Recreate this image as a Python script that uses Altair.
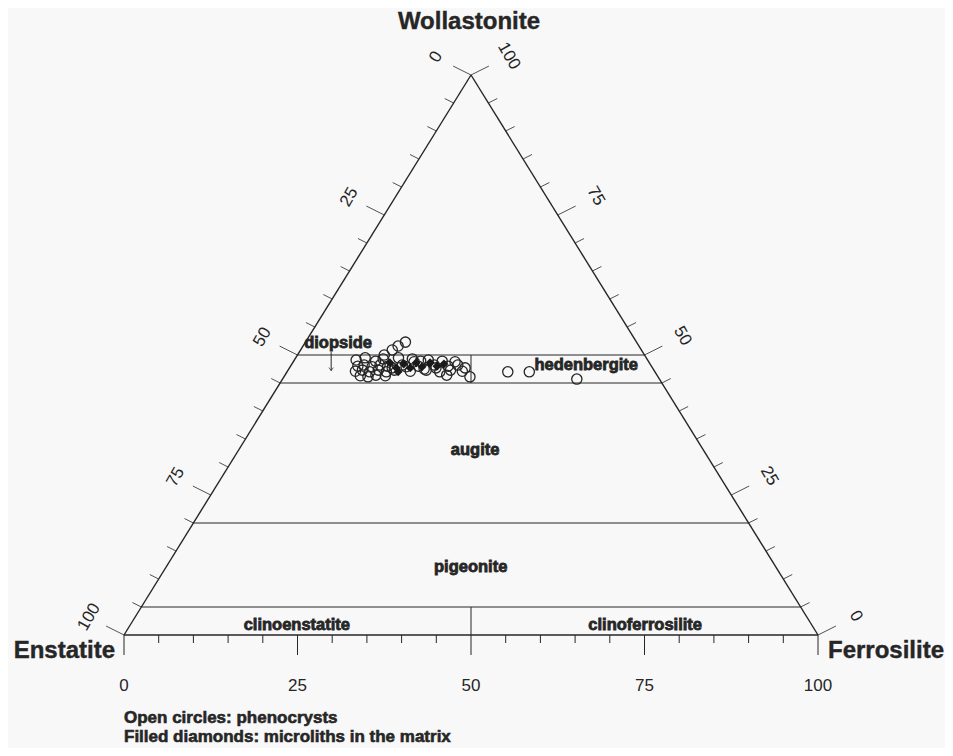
import altair as alt
import pandas as pd

# ---------------- data (mol %) ----------------
# Open circles: phenocrysts  (Wo, Fs; En = 100 - Wo - Fs)
PHENO_WO = [52.3, 51.6, 50.9, 50.0,
            49.1, 49.5, 48.9, 49.3, 49.5, 49.3, 48.9, 49.1, 48.9, 48.8,
            48.0, 48.2, 47.9, 48.2, 48.0, 48.2, 48.0, 48.2, 48.0, 48.2, 47.7,
            47.1, 47.3, 47.0, 47.3, 47.0, 47.3, 47.1, 47.3, 47.0, 47.3, 47.1,
            46.3, 46.1, 46.4, 46.3, 46.4, 46.1,
            47.9, 48.8, 47.5, 47.7, 47.7,
            47.0, 47.0, 45.7]
PHENO_FS = [14.4, 13.7, 13.2, 12.5,
            8.9, 10.0, 11.8, 12.7, 14.8, 16.9, 18.3, 19.3, 21.4, 23.3,
            9.7, 10.5, 11.8, 12.8, 14.0, 16.0, 18.4, 20.6, 22.7, 24.0, 25.3,
            9.8, 10.7, 11.9, 13.0, 14.3, 15.3, 17.7, 19.9, 22.0, 23.4, 25.2,
            10.9, 12.1, 13.1, 14.5, 23.3, 26.8,
            16.7, 17.4, 19.5, 21.1, 14.8,
            31.8, 34.9, 42.4]

# Filled diamonds: microliths in the matrix
MICRO_WO = [48.6, 47.7, 48.4, 47.7, 48.6, 47.9, 48.6, 48.0, 48.4, 47.0]
MICRO_FS = [14.0, 15.4, 16.1, 17.4, 17.8, 19.0, 19.8, 21.1, 21.9, 16.0]

# Pyroxene quadrilateral boundaries (Wo levels) and the En/Fs divider
BOUNDARY_WO = [50, 45, 20, 5]
DIVIDER_FS = 50

TICK_VALUES = list(range(0, 101, 5))
MAJOR_TICKS = [0, 25, 50, 75, 100]

CORNERS = ["Wollastonite", "Enstatite", "Ferrosilite"]
FIELD_NAMES = ["diopside", "hedenbergite", "augite", "pigeonite",
               "clinoenstatite", "clinoferrosilite"]
FIELD_WO = [52.1, 48.2, 33.0, 12.1, 1.8, 1.8]
FIELD_FS = [4.8, 42.5, 34.1, 43.9, 24.0, 74.2]
NOTES = ["Open circles: phenocrysts",
         "Filled diamonds: microliths in the matrix"]

# ---------------- geometry helpers ----------------
W, H = 694, 560
PX_X = W / 100.0
PX_Y = H / 100.0


def tern(wo, fs):
    return fs + wo / 2.0, wo


def off(p, dx, dy):
    """offset a data point by a pixel amount (dy positive = down)"""
    return p[0] + dx / PX_X, p[1] - dy / PX_Y


xs = alt.Scale(domain=[0, 100], nice=False, zero=False)
ys = alt.Scale(domain=[0, 100], nice=False, zero=False)
INK = "#262626"
FONT = "Liberation Sans"

# ---------------- line segments ----------------
segs = []


def seg(p, q, w=1.0):
    segs.append(dict(x=p[0], y=p[1], x2=q[0], y2=q[1], w=w))


seg(tern(0, 0), tern(0, 100), 1.4)
seg(tern(0, 0), tern(100, 0), 1.4)
seg(tern(0, 100), tern(100, 0), 1.4)
for wo in BOUNDARY_WO:
    seg(tern(wo, 0), tern(wo, 100 - wo), 1.0)
seg(tern(0, DIVIDER_FS), tern(5, DIVIDER_FS - 2.5), 1.0)
seg(tern(45, DIVIDER_FS - 22.5), tern(50, DIVIDER_FS - 25), 1.0)

for t in TICK_VALUES:
    major = t in MAJOR_TICKS
    # bottom (Fs)
    p = tern(0, t)
    seg(p, off(p, 0, 20 if major else 8), 1.0)
    # left edge (Wo level t)
    p = tern(t, 0)
    L = 20 if major else 10
    seg(p, off(p, -0.894 * L, -0.447 * L), 0.8)
    # right edge
    p = tern(t, 100 - t)
    seg(p, off(p, 0.894 * L, -0.447 * L), 0.8)

seg_df = pd.DataFrame(segs)
lines = alt.Chart(seg_df).mark_rule(color=INK).encode(
    x=alt.X("x:Q", scale=xs, axis=None),
    y=alt.Y("y:Q", scale=ys, axis=None),
    x2="x2:Q", y2="y2:Q",
    strokeWidth=alt.StrokeWidth("w:Q", scale=None, legend=None),
)

# arrow under "diopside"
arr_top = tern(50.5, 4.6)
arr_bot = tern(47.2, 6.2)
arrow = alt.Chart(pd.DataFrame([dict(x=arr_top[0], y=arr_top[1],
                                     x2=arr_top[0], y2=arr_bot[1])])).mark_rule(
    color=INK, strokeWidth=1.0).encode(
    x=alt.X("x:Q", scale=xs, axis=None), y=alt.Y("y:Q", scale=ys, axis=None),
    x2="x2:Q", y2="y2:Q")
arrow_head = alt.Chart(pd.DataFrame([dict(x=arr_top[0], y=arr_bot[1])])).mark_point(
    shape="M-0.7,-1L0,0L0.7,-1", filled=False, color=INK, strokeWidth=1.0,
    size=40).encode(x=alt.X("x:Q", scale=xs, axis=None),
                    y=alt.Y("y:Q", scale=ys, axis=None))

# ---------------- data points ----------------
pheno = pd.DataFrame({"Wo": PHENO_WO, "Fs": PHENO_FS})
micro = pd.DataFrame({"Wo": MICRO_WO, "Fs": MICRO_FS})

circles = alt.Chart(pheno).transform_calculate(
    En="100 - datum.Wo - datum.Fs",
    X="datum.Fs + datum.Wo / 2", Y="datum.Wo",
).mark_point(shape="circle", filled=False, size=105, color=INK,
             strokeWidth=1.3, opacity=1).encode(
    x=alt.X("X:Q", scale=xs, axis=None), y=alt.Y("Y:Q", scale=ys, axis=None))

diamonds = alt.Chart(micro).transform_calculate(
    En="100 - datum.Wo - datum.Fs",
    X="datum.Fs + datum.Wo / 2", Y="datum.Wo",
).mark_point(shape="diamond", filled=True, size=80, color="#1a1a1a",
             opacity=1).encode(
    x=alt.X("X:Q", scale=xs, axis=None), y=alt.Y("Y:Q", scale=ys, axis=None))

# ---------------- tick labels ----------------
def text_layer(df, **kw):
    return alt.Chart(df).mark_text(font=FONT, color=INK, **kw).encode(
        x=alt.X("x:Q", scale=xs, axis=None),
        y=alt.Y("y:Q", scale=ys, axis=None),
        text="t:N")


bottom_lab = pd.DataFrame([dict(zip(("x", "y"), off(tern(0, v), 0, 51)), t=str(v))
                           for v in MAJOR_TICKS])
left_lab = pd.DataFrame([dict(zip(("x", "y"), off(tern(100 - v, 0), -35, -18)), t=str(v))
                         for v in MAJOR_TICKS])
right_lab = pd.DataFrame([dict(zip(("x", "y"), off(tern(v, 100 - v), 38, -19)), t=str(v))
                          for v in MAJOR_TICKS])

t_bottom = text_layer(bottom_lab, fontSize=17, align="center", baseline="middle")
t_left = text_layer(left_lab, fontSize=17, align="center", baseline="middle", angle=300)
t_right = text_layer(right_lab, fontSize=17, align="center", baseline="middle", angle=60)

# corner titles
wol = off(tern(100, 0), -2, -46)
ens = off(tern(0, 0), -9, 23)
fer = off(tern(0, 100), 10, 23)
corner_kw = dict(fontSize=24, fontWeight="bold", baseline="alphabetic",
                 stroke=INK, strokeWidth=0.4)
t_w = text_layer(pd.DataFrame([dict(x=wol[0], y=wol[1], t=CORNERS[0])]),
                 align="center", **corner_kw)
t_e = text_layer(pd.DataFrame([dict(x=ens[0], y=ens[1], t=CORNERS[1])]),
                 align="right", **corner_kw)
t_f = text_layer(pd.DataFrame([dict(x=fer[0], y=fer[1], t=CORNERS[2])]),
                 align="left", **corner_kw)

# field names
field_df = pd.DataFrame([dict(zip(("x", "y"), tern(wo, fs)), t=n)
                         for n, wo, fs in zip(FIELD_NAMES, FIELD_WO, FIELD_FS)])
t_fields = alt.Chart(field_df).mark_text(
    font=FONT, fontSize=16.5, fontWeight="bold", color=INK, stroke=INK,
    strokeWidth=0.8, align="center", baseline="middle").encode(
    x=alt.X("x:Q", scale=xs, axis=None), y=alt.Y("y:Q", scale=ys, axis=None),
    text="t:N")

# notes
n1 = off(tern(0, 0), 0, 83)
n2 = off(tern(0, 0), 0, 102)
notes_df = pd.DataFrame([dict(x=n1[0], y=n1[1], t=NOTES[0]),
                         dict(x=n2[0], y=n2[1], t=NOTES[1])])
t_notes = alt.Chart(notes_df).mark_text(
    font=FONT, fontSize=17, fontWeight="bold", color=INK, stroke=INK,
    strokeWidth=0.6, align="left", baseline="middle").encode(
    x=alt.X("x:Q", scale=xs, axis=None), y=alt.Y("y:Q", scale=ys, axis=None),
    text="t:N")

chart = alt.layer(
    lines, arrow, arrow_head, circles, diamonds,
    t_bottom, t_left, t_right, t_w, t_e, t_f, t_fields, t_notes,
).properties(
    width=W, height=H,
    autosize=alt.AutoSizeParams(type="none"),
    padding={"left": 116, "top": 67, "right": 127, "bottom": 113},
    background="#f8f8f8",
).configure_view(stroke=None)

chart.save("out.html", embed_options={"renderer": "svg", "actions": False})
